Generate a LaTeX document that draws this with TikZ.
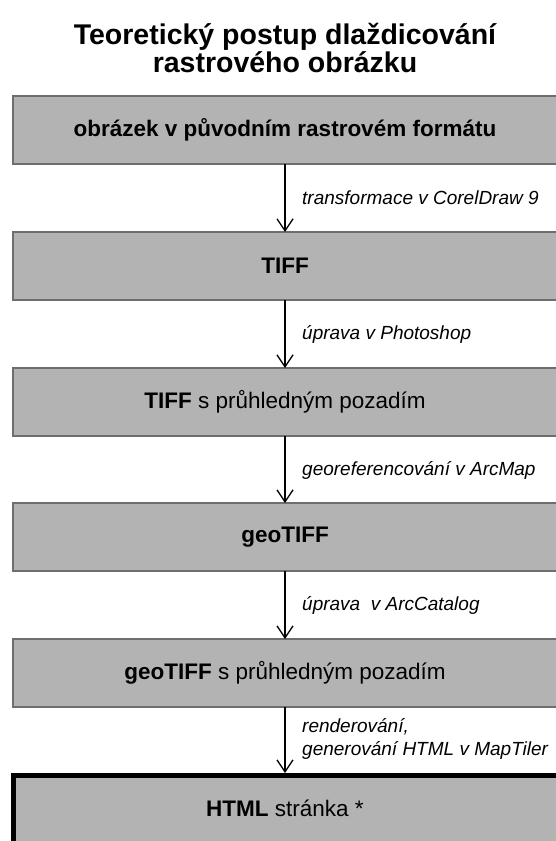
\documentclass[tikz,border=0pt]{standalone}
\usepackage{fontspec}
\setmainfont{Liberation Sans}
\usetikzlibrary{arrows.meta}
\definecolor{boxfill}{HTML}{B3B3B3}
\definecolor{boxline}{HTML}{6E6E6E}
\begin{document}
\begin{tikzpicture}[x=1pt,y=-1pt,
  stepbox/.style={draw=boxline,line width=1.2pt,fill=boxfill},
  boxtext/.style={font=\fontsize{22.5}{26}\selectfont,anchor=center,inner sep=0pt},
  steplabel/.style={font=\fontsize{19}{23}\itshape\selectfont,anchor=west,align=left,inner sep=0pt},
  flow/.style={line width=1.3pt,-{Straight Barb[length=12pt,width=16pt,line width=1.3pt]}}]
\useasboundingbox (0,0) rectangle (555,841);

% title
\node[font=\fontsize{28.5}{28.5}\bfseries\selectfont,align=center,inner sep=0pt] (title) at (285,48)
  {Teoretický postup dlaždicování\\rastrového obrázku};

% process boxes
\draw[stepbox] (13,96) rectangle (557,164);
\node[boxtext] (b1) at (285,130) {\bfseries obrázek v původním rastrovém formátu};
\coordinate (b1s) at (285,164);

\draw[stepbox] (13,232) rectangle (557,300);
\node[boxtext] (b2) at (285,266) {\bfseries TIFF};
\coordinate (b2n) at (285,232);
\coordinate (b2s) at (285,300);

\draw[stepbox] (13,368) rectangle (557,436);
\node[boxtext] (b3) at (285,402) {\textbf{TIFF} s průhledným pozadím};
\coordinate (b3n) at (285,368);
\coordinate (b3s) at (285,436);

\draw[stepbox] (13,503) rectangle (557,571);
\node[boxtext] (b4) at (285,537) {\bfseries geoTIFF};
\coordinate (b4n) at (285,503);
\coordinate (b4s) at (285,571);

\draw[stepbox] (13,639) rectangle (557,707);
\node[boxtext] (b5) at (285,673) {\textbf{geoTIFF} s průhledným pozadím};
\coordinate (b5n) at (285,639);
\coordinate (b5s) at (285,707);

\draw[draw=black,line width=5pt,fill=boxfill] (13,775.5) rectangle (560,850);
\node[boxtext] (b6) at (285,808) {\textbf{HTML} stránka *};
\coordinate (b6n) at (285,773);

% arrows between steps
\draw[flow] (b1s) -- (b2n);
\draw[flow] (b2s) -- (b3n);
\draw[flow] (b3s) -- (b4n);
\draw[flow] (b4s) -- (b5n);
\draw[flow] (b5s) -- (b6n);

% operation labels
\node[steplabel] (l1) at (302,198) {transformace v CorelDraw 9};
\node[steplabel] (l2) at (302,334) {úprava v Photoshop};
\node[steplabel] (l3) at (302,470) {georeferencování v ArcMap};
\node[steplabel] (l4) at (302,605) {úprava~ v ArcCatalog};
\node[steplabel] (l5) at (302,739) {renderování,\\generování HTML v MapTiler};
\end{tikzpicture}
\end{document}
